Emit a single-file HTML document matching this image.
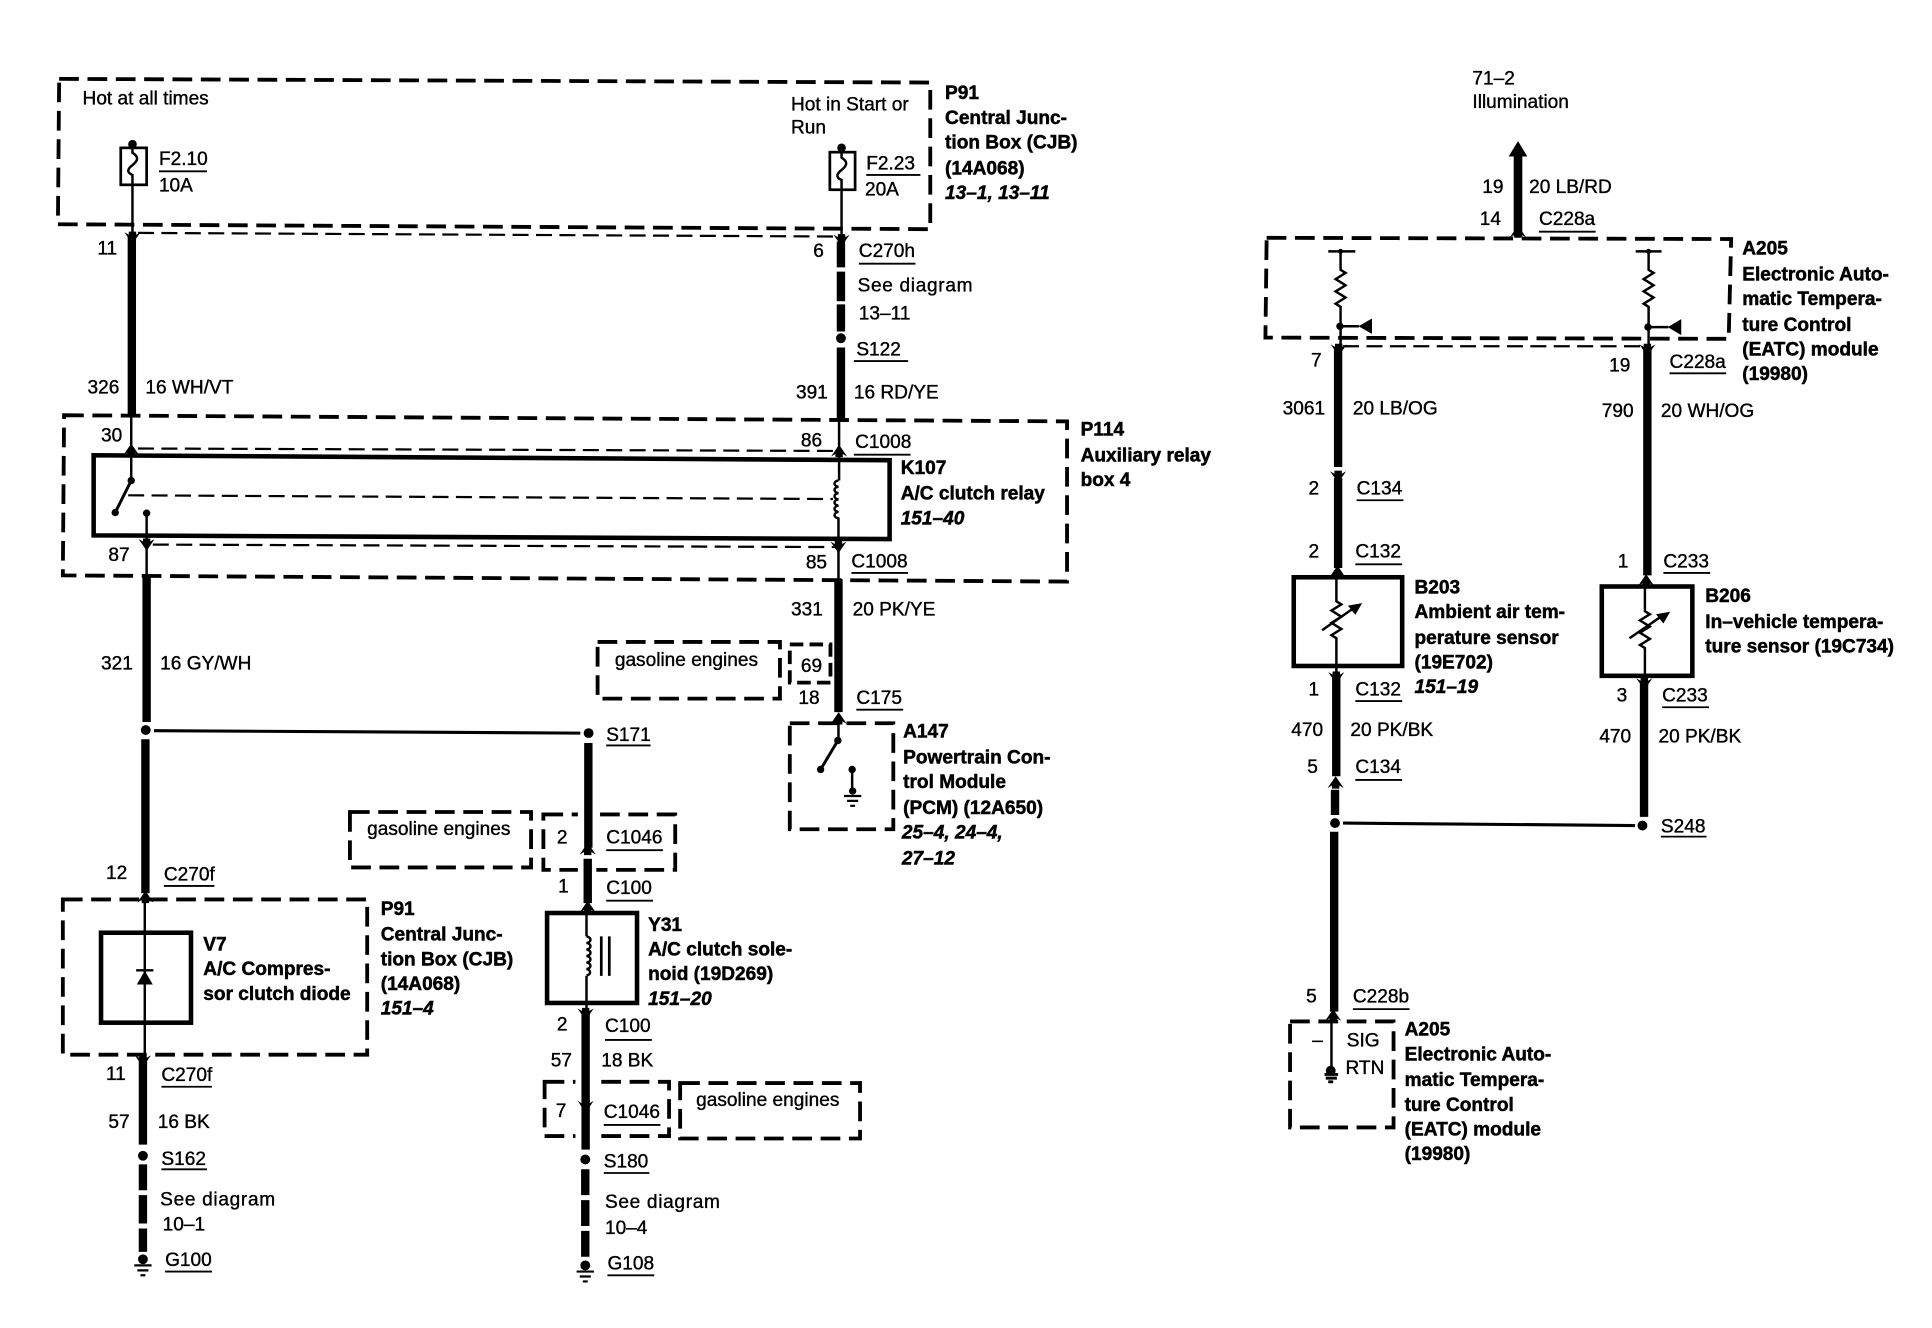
<!DOCTYPE html>
<html><head><meta charset="utf-8"><style>
html,body{margin:0;padding:0;background:#fff}
svg{display:block}
text{font-family:"Liberation Sans",sans-serif;font-size:15.5px;fill:#000;stroke:#000;stroke-width:.3}
.b{font-weight:bold;stroke-width:.4}
.i{font-weight:bold;font-style:italic;stroke-width:.4}
.s{letter-spacing:.55px}
.d{fill:none;stroke:#000;stroke-width:3.1;stroke-dasharray:16 7}
.t{fill:none;stroke:#000;stroke-width:1.8;stroke-dasharray:13 6}
.w{fill:none;stroke:#000;stroke-width:2}
.h{fill:none;stroke:#000;stroke-width:6.8}
.r{fill:none;stroke:#000;stroke-width:3.7}
.u{fill:none;stroke:#000;stroke-width:1.5}
</style></head><body>
<svg xmlns="http://www.w3.org/2000/svg" width="1932" height="1328" viewBox="0 0 1568 1077.8">
<rect width="1568" height="1078" fill="#fff"/>
<defs>
<path id="dn" d="M-6.500,-5.500 L-3,-3.500 V-6 H3 V-3.500 L6.500,-5.500 L0,4 Z"/>
<path id="up" d="M-6.500,5.500 L-3,3.500 V6 H3 V3.500 L6.500,5.500 L0,-4 Z"/>
<path id="gnd" d="M-7,0h14M-4.500,4h9M-2,8h4" fill="none" stroke="#000" stroke-width="1.800"/>
</defs>

<!-- dashed boxes -->
<path class="d" d="M48,64 L755,67 L755,186 L47,182 Z"/>
<path class="d" d="M52,337 L866,342 L866,472 L51,467 Z"/>
<path class="d" d="M51,730 H298 V856 H51 Z"/>
<path class="d" d="M485,521 H633 V567 H485 Z"/>
<path class="d" style="stroke-dasharray:11 5" d="M641,523 H674 V554 H641 Z"/>
<path class="d" d="M641,587 H725 V673 H641 Z"/>
<path class="d" d="M284,659 H431 V704 H284 Z"/>
<path class="d" d="M441,661 H548 V706 H441 Z"/>
<path class="d" d="M442,878 H543 V922 H442 Z"/>
<path class="d" d="M552,879 H698 V924 H552 Z"/>
<path class="d" d="M1028,193 L1405,194 L1403,275 L1027,274 Z"/>
<path class="d" d="M1047,829 H1131 V915 H1047 Z"/>
<!-- gaps in the optional-connector boxes where the wire passes -->
<path d="M469,658h15v7h-15zM469,702h15v7h-15zM467,875h15v7h-15zM467,919h15v7h-15z" fill="#fff"/>

<!-- thin dashed connector lines -->
<path class="t" d="M112,189 L682,192"/>
<path class="t" d="M112,364 L680,366"/>
<path class="t" d="M104,402 L676,405"/>
<path class="t" d="M124,442 L680,444"/>
<path class="t" d="M1090,281 H1337"/>

<!-- relay and component boxes -->
<path class="r" d="M76,369.500 L722,373.500 V437.500 L76,434.500 Z"/>
<rect class="r" x="82" y="757" width="73" height="73"/>
<rect class="r" x="444" y="741" width="73" height="73"/>
<rect class="r" x="1050" y="468.500" width="88" height="72"/>
<rect class="r" x="1300" y="476" width="73.500" height="72.500"/>

<!-- left wire top -->
<rect x="98" y="120" width="21" height="30" fill="#fff" stroke="#000" stroke-width="2.200"/>
<path class="w" d="M107.500,116 V124 c5,3 5,6 0,10 c-4,3 -5,6 0,8 V190"/>
<circle cx="107.500" cy="117" r="3.500"/>
<use href="#dn" x="107.500" y="194"/>
<path class="h" d="M107,192 V338"/>
<path class="w" d="M106.500,338 V390"/>
<use href="#up" x="106.500" y="364"/>
<circle cx="106.500" cy="390" r="3"/>
<path class="w" style="stroke-width:2.400" d="M106.500,390 L93.500,416"/>
<circle cx="93.500" cy="416" r="3"/>
<circle cx="119" cy="416.500" r="3"/>
<path class="w" d="M119,416.500 V468"/>
<use href="#dn" x="119" y="443"/>
<path class="h" d="M119,467 V586"/>
<circle cx="118.300" cy="592.500" r="4"/>
<path class="w" style="stroke-width:2.500" d="M125,593 L471,595"/>
<circle cx="477.700" cy="595" r="4"/>
<path class="h" d="M118,600 V725"/>
<use href="#up" x="118" y="727"/>
<path class="w" d="M117.500,727 V861"/>
<path d="M111,799 L124,799 L117.500,788 Z"/><path class="w" d="M110.500,787.500 H124.500"/>
<use href="#dn" x="116" y="862"/>
<path class="h" d="M116,860 V929"/>
<circle cx="116" cy="938" r="4"/>
<path class="h" d="M116,945 V966 M116,970 V993 M116,997 V1016"/>
<circle cx="116" cy="1022" r="4"/>
<use href="#gnd" x="116" y="1027"/>

<!-- middle wire -->
<path class="h" d="M477.500,603 V688"/>
<use href="#up" x="477" y="688"/>
<path class="h" d="M477,697 V733"/>
<use href="#up" x="477" y="735"/>
<path class="w" d="M476,735 V760 M476,792 V822"/>
<path class="w" d="M476,760 a4,2.700 0 0 1 0,5.300 a4,2.700 0 0 1 0,5.300 a4,2.700 0 0 1 0,5.300 a4,2.700 0 0 1 0,5.300 a4,2.700 0 0 1 0,5.300 a4,2.700 0 0 1 0,5.200"/>
<path class="w" style="stroke-width:2.200" d="M488,760 V792 M494.500,760 V792"/>
<use href="#dn" x="475.300" y="824"/>
<path class="h" d="M475.300,822 V933"/>
<use href="#dn" x="475.300" y="899"/>
<circle cx="475" cy="941" r="4"/>
<path class="h" d="M475,949 V970 M475,974 V995 M475,999 V1020"/>
<circle cx="475" cy="1027" r="4"/>
<use href="#gnd" x="475" y="1032"/>

<!-- F2.23 wire -->
<rect x="673.500" y="123.500" width="20.500" height="30.500" fill="#fff" stroke="#000" stroke-width="2.200"/>
<path class="w" d="M683,120 V128 c5,3 5,6 0,10 c-4,3 -5,6 0,8 V192"/>
<circle cx="683" cy="120" r="3.500"/>
<use href="#dn" x="683" y="196"/>
<path class="h" d="M682.500,196 V217 M682.500,220.500 V244.500 M682.500,247 V269"/>
<circle cx="682.500" cy="274.500" r="4"/>
<path class="h" d="M682.500,282 V340"/>
<path class="w" d="M681,340 V390 M680.500,420 V470"/>
<use href="#up" x="681" y="365"/>
<path class="w" d="M680.500,390 a4,2.600 0 0 0 0,5.100 a4,2.600 0 0 0 0,5.100 a4,2.600 0 0 0 0,5.100 a4,2.600 0 0 0 0,5.100 a4,2.600 0 0 0 0,5.100 a4,2.600 0 0 0 0,5.100"/>
<use href="#dn" x="680.500" y="445"/>
<path class="h" d="M680.500,470 V578"/>
<use href="#up" x="680.700" y="582"/>
<path class="w" d="M680.500,582 V601"/>
<circle cx="680" cy="601" r="3"/>
<path class="w" style="stroke-width:2.400" d="M680,601 L666,624.500"/>
<circle cx="666" cy="624.500" r="3"/>
<circle cx="691.600" cy="624.500" r="3"/>
<path class="w" d="M691.600,624 V642"/>
<circle cx="692" cy="642" r="3"/>
<use href="#gnd" x="692" y="646"/>

<!-- right side: arrow wire -->
<path d="M1232,114.500 L1239.600,127 H1224.400 Z"/>
<path class="h" style="stroke-width:7" d="M1232,125 V192"/>
<use href="#up" x="1232" y="187"/>

<!-- A205 resistors -->
<path class="w" d="M1078,204 H1100"/>
<circle cx="1088" cy="204" r="2"/>
<path class="w" d="M1088,204 V219 l4,2.500 -8,5 8,5 -8,5 8,5 -8,5 4,2.500 V281"/>
<circle cx="1087.500" cy="264.800" r="3"/>
<path class="w" d="M1087,264.800 H1103"/><path d="M1113.500,258.500 V271 L1102.500,264.800 Z"/>
<use href="#dn" x="1086.500" y="285"/>
<path class="h" d="M1086,283 V379"/>
<use href="#dn" x="1086" y="388"/>
<path class="h" d="M1086,388 V461"/>
<use href="#up" x="1085.500" y="463"/>
<path class="w" d="M1084.600,463 V488 l4,2.500 -8,5 8,5 -8,5 8,5 -8,5 4,2.500 V550"/>
<path class="w" d="M1073,511.500 L1098,494"/><path d="M1105.500,489.500 L1100,499 L1094,491.500 Z"/>

<path class="w" d="M1327.500,204 H1348.500"/>
<circle cx="1338" cy="204" r="2"/>
<path class="w" d="M1338,204 V219 l4,2.500 -8,5 8,5 -8,5 8,5 -8,5 4,2.500 V281"/>
<circle cx="1337.500" cy="265.500" r="3"/>
<path class="w" d="M1337,265.500 H1354"/><path d="M1364.500,259 V272 L1353.500,265.500 Z"/>
<use href="#dn" x="1337" y="285"/>
<path class="h" d="M1337,283 V467"/>
<use href="#up" x="1336" y="470"/>
<path class="w" d="M1335,470 V496 l4,2.500 -8,5 8,5 -8,5 8,5 -8,5 4,2.500 V555"/>
<path class="w" d="M1322.500,518 L1348,500.500"/><path d="M1355.500,496.500 L1350,506 L1344,498.500 Z"/>
<use href="#dn" x="1334.500" y="556"/>
<path class="h" d="M1334.300,555 V663"/>
<circle cx="1333" cy="670" r="4"/>

<use href="#dn" x="1084.500" y="551"/>
<path class="h" d="M1084.500,550 V630"/>
<use href="#up" x="1084" y="634"/>
<path class="h" d="M1083.500,641 V661.500"/>
<circle cx="1083.500" cy="668" r="4"/>
<path class="w" style="stroke-width:2.500" d="M1090,668 L1327,670"/>
<path class="h" d="M1082.800,675 V821"/>
<use href="#up" x="1082" y="823"/>
<path class="w" d="M1080.600,823 V868"/>
<circle cx="1080" cy="869" r="4"/>
<path class="w" style="stroke-width:2.400" d="M1075,872h11M1076,875h9M1078,878h4"/>

<!-- underlines -->
<path class="u" d="M129,139h39M703,142h44M697,214h46M693,293h44M693,369h46M691,465h46M695,576h38M492,605h36M492,690h46M492,731h38M133,719h41M491,844h38M490,913h46M131,882h41M131,949h37M134,1032h38M490,952h37M493,1035h38M1249,188h46M1355,303h46M1101,406h38M1100,458h38M1350,465h38M1100,569h38M1349,574h38M1100,633h38M1348,679h37M1098,819h46"/>

<!-- regular labels -->
<text x="67" y="85">Hot at all times</text>
<text x="129" y="134">F2.10</text>
<text x="129" y="155.500">10A</text>
<text x="642" y="89.500">Hot in Start or</text>
<text x="642" y="108.500">Run</text>
<text x="703" y="137.500">F2.23</text>
<text x="702" y="158.500">20A</text>
<text x="79" y="206.500">11</text>
<text x="660" y="208.500">6</text>
<text x="697" y="208.500">C270h</text>
<text class="s" x="696" y="236.500">See diagram</text>
<text x="697" y="259.500">13–11</text>
<text x="695" y="288.500">S122</text>
<text x="71" y="319.500">326</text>
<text x="118" y="319.500">16 WH/VT</text>
<text x="646" y="323.500">391</text>
<text x="693" y="323.500">16 RD/YE</text>
<text x="82" y="358.500">30</text>
<text x="650" y="362.500">86</text>
<text x="694" y="363.500">C1008</text>
<text x="88" y="455.500">87</text>
<text x="654" y="461.500">85</text>
<text x="691" y="460.500">C1008</text>
<text x="642" y="499.500">331</text>
<text x="692" y="499.500">20 PK/YE</text>
<text x="82" y="543.500">321</text>
<text x="130" y="543.500">16 GY/WH</text>
<text x="499" y="540.500">gasoline engines</text>
<text x="650" y="545.500">69</text>
<text x="648" y="571.500">18</text>
<text x="695" y="571.500">C175</text>
<text x="492" y="601.500">S171</text>
<text x="298" y="677.500">gasoline engines</text>
<text x="452" y="684.500">2</text>
<text x="492" y="684.500">C1046</text>
<text x="453" y="724.500">1</text>
<text x="492" y="725.500">C100</text>
<text x="86" y="713.500">12</text>
<text x="133" y="714.500">C270f</text>
<text x="452" y="836.500">2</text>
<text x="491" y="837.500">C100</text>
<text x="447" y="865.500">57</text>
<text x="488" y="865.500">18 BK</text>
<text x="451" y="906.500">7</text>
<text x="490" y="907.500">C1046</text>
<text x="565" y="897.500">gasoline engines</text>
<text x="86" y="876.500">11</text>
<text x="131" y="877.500">C270f</text>
<text x="88" y="915.500">57</text>
<text x="128" y="915.500">16 BK</text>
<text x="131" y="945.500">S162</text>
<text class="s" x="130" y="978.500">See diagram</text>
<text x="132" y="998.500">10–1</text>
<text x="134" y="1027.500">G100</text>
<text x="490" y="947.500">S180</text>
<text class="s" x="491" y="980.500">See diagram</text>
<text x="491" y="1001.500">10–4</text>
<text x="493" y="1030.500">G108</text>

<text x="1195" y="68.500">71–2</text>
<text x="1195" y="87.500">Illumination</text>
<text x="1203" y="156.500">19</text>
<text x="1241" y="156.500">20 LB/RD</text>
<text x="1201" y="182.500">14</text>
<text x="1249" y="182.500">C228a</text>
<text x="1064" y="297.500">7</text>
<text x="1306" y="301.500">19</text>
<text x="1355" y="298.500">C228a</text>
<text x="1041" y="336.500">3061</text>
<text x="1098" y="336.500">20 LB/OG</text>
<text x="1300" y="338.500">790</text>
<text x="1348" y="338.500">20 WH/OG</text>
<text x="1062" y="401.500">2</text>
<text x="1101" y="401.500">C134</text>
<text x="1062" y="452.500">2</text>
<text x="1100" y="452.500">C132</text>
<text x="1313" y="460.500">1</text>
<text x="1350" y="460.500">C233</text>
<text x="1062" y="564.500">1</text>
<text x="1100" y="564.500">C132</text>
<text x="1312" y="569.500">3</text>
<text x="1349" y="569.500">C233</text>
<text x="1048" y="597.500">470</text>
<text x="1096" y="597.500">20 PK/BK</text>
<text x="1298" y="602.500">470</text>
<text x="1346" y="602.500">20 PK/BK</text>
<text x="1061" y="627.500">5</text>
<text x="1100" y="627.500">C134</text>
<text x="1348" y="675.500">S248</text>
<text x="1060" y="813.500">5</text>
<text x="1098" y="813.500">C228b</text>
<text x="1065" y="849.500">–</text>
<text x="1093" y="849.500">SIG</text>
<text x="1092" y="871.500">RTN</text>

<!-- bold blocks -->
<text class="b" x="767" y="80.500">P91</text>
<text class="b" x="767" y="100.500">Central Junc-</text>
<text class="b" x="767" y="120.500">tion Box (CJB)</text>
<text class="b" x="767" y="141.500">(14A068)</text>
<text class="i" x="767" y="161.500">13–1, 13–11</text>

<text class="b" x="877" y="353.500">P114</text>
<text class="b" x="877" y="374.500">Auxiliary relay</text>
<text class="b" x="877" y="394.500">box 4</text>

<text class="b" x="731" y="384.500">K107</text>
<text class="b" x="731" y="405.500">A/C clutch relay</text>
<text class="i" x="731" y="425.500">151–40</text>

<text class="b" x="733" y="598.500">A147</text>
<text class="b" x="733" y="619.500">Powertrain Con-</text>
<text class="b" x="733" y="639.500">trol Module</text>
<text class="b" x="733" y="660.500">(PCM) (12A650)</text>
<text class="i" x="732" y="680.500">25–4, 24–4,</text>
<text class="i" x="732" y="701.500">27–12</text>

<text class="b" x="165" y="771.500">V7</text>
<text class="b" x="165" y="791.500">A/C Compres-</text>
<text class="b" x="165" y="811.500">sor clutch diode</text>

<text class="b" x="309" y="742.500">P91</text>
<text class="b" x="309" y="763.500">Central Junc-</text>
<text class="b" x="309" y="783.500">tion Box (CJB)</text>
<text class="b" x="309" y="803.500">(14A068)</text>
<text class="i" x="309" y="823.500">151–4</text>

<text class="b" x="526" y="755.500">Y31</text>
<text class="b" x="526" y="775.500">A/C clutch sole-</text>
<text class="b" x="526" y="795.500">noid (19D269)</text>
<text class="i" x="526" y="815.500">151–20</text>

<text class="b" x="1148" y="481.500">B203</text>
<text class="b" x="1148" y="501.500">Ambient air tem-</text>
<text class="b" x="1148" y="522.500">perature sensor</text>
<text class="b" x="1148" y="542.500">(19E702)</text>
<text class="i" x="1148" y="562.500">151–19</text>

<text class="b" x="1384" y="488.500">B206</text>
<text class="b" x="1384" y="509.500">In–vehicle tempera-</text>
<text class="b" x="1384" y="529.500">ture sensor (19C734)</text>

<text class="b" x="1414" y="206.500">A205</text>
<text class="b" x="1414" y="227.500">Electronic Auto-</text>
<text class="b" x="1414" y="247.500">matic Tempera-</text>
<text class="b" x="1414" y="268.500">ture Control</text>
<text class="b" x="1414" y="288.500">(EATC) module</text>
<text class="b" x="1414" y="308.500">(19980)</text>

<text class="b" x="1140" y="840.500">A205</text>
<text class="b" x="1140" y="860.500">Electronic Auto-</text>
<text class="b" x="1140" y="881.500">matic Tempera-</text>
<text class="b" x="1140" y="901.500">ture Control</text>
<text class="b" x="1140" y="921.500">(EATC) module</text>
<text class="b" x="1140" y="941.500">(19980)</text>
</svg>
</body></html>
